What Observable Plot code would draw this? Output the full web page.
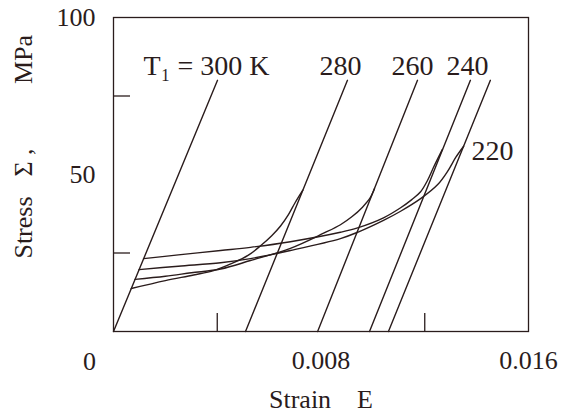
<!DOCTYPE html>
<html>
<head>
<meta charset="utf-8">
<script src="https://cdn.jsdelivr.net/npm/d3@7"></script>
<script src="https://cdn.jsdelivr.net/npm/@observablehq/plot@0.6"></script>
<style>
  html, body { margin: 0; padding: 0; background: #fff; }
  #chart { width: 564px; height: 415px; }
</style>
</head>
<body>
<div id="chart"></div>
<script>
// ---- data (strain E, stress Σ in MPa) ----
const lineTemps = [300, 280, 260, 240, 220];
const lineStartStrain = [0, 0.00509, 0.00787, 0.00987, 0.0106];
const lineEndStrain = [0.00401, 0.00902, 0.01172, 0.01376, 0.01453];
const lineEndStress = [80, 80, 80, 80, 80];

const curve280Strain = [0.000685, 0.0020, 0.00309, 0.00386, 0.00463, 0.00520, 0.00567, 0.00610, 0.00644, 0.00675, 0.00700, 0.0073];
const curve280Stress = [13.7, 16.2, 18.0, 19.4, 21.9, 24.3, 27.3, 30.5, 33.6, 37.3, 41.0, 45.0];

const curve260Strain = [0.00083, 0.0020, 0.00300, 0.00413, 0.00528, 0.00682, 0.0081, 0.00875, 0.0092, 0.0096, 0.0099, 0.01006];
const curve260Stress = [16.6, 17.6, 18.7, 19.9, 22.6, 26.5, 31.3, 34.0, 36.6, 39.6, 42.6, 45.5];

const curve240Strain = [0.00116, 0.0025, 0.00413, 0.00528, 0.00682, 0.00875, 0.00941, 0.01041, 0.01107, 0.0115, 0.01184, 0.0121, 0.01234, 0.01268];
const curve240Stress = [23.2, 24.4, 25.8, 26.8, 28.6, 31.6, 33.0, 36.2, 39.4, 42.0, 44.5, 48.0, 52.3, 58.0];

const curve220Strain = [0.000985, 0.0025, 0.00413, 0.00528, 0.00682, 0.00875, 0.00941, 0.01041, 0.01107, 0.01184, 0.0125, 0.01288, 0.0132, 0.0135];
const curve220Stress = [19.7, 20.8, 21.9, 23.2, 25.8, 29.6, 31.6, 35.4, 38.3, 42.3, 46.8, 51.0, 55.5, 59.0];

const labelTexts = ["T\u2081 = 300 K", "280", "260", "240", "220"];
const labelStrain = [0.00116, 0.00875, 0.01153, 0.01365, 0.01461];
const labelStress = [84.7, 84.7, 84.7, 84.7, 57.6];

const xTickLabels = [0.008, 0.016];
const yTickLabels = [50, 100];
const xMinorTicks = [0.004, 0.012];
const yMinorTicks = [25, 75];

const yTitleParts = ["Stress", "\u03A3 ,", "MPa"];

// ---- build tables ----
const lines = lineTemps.map((t, i) => [
  {t, e: lineStartStrain[i], s: 0},
  {t, e: lineEndStrain[i], s: lineEndStress[i]}
]).flat();

const curves = [
  [280, curve280Strain, curve280Stress],
  [260, curve260Strain, curve260Stress],
  [240, curve240Strain, curve240Stress],
  [220, curve220Strain, curve220Stress]
].flatMap(([t, es, ss]) => es.map((e, i) => ({t, e, s: ss[i]})));

const labels = labelTexts.map((text, i) => ({text, e: labelStrain[i], s: labelStress[i], first: i === 0}));

const ink = "#2a1c1c";
const yTitleOffsets = [53, -12, -115];

const chart = Plot.plot({
  width: 564,
  height: 415,
  marginLeft: 113,
  marginRight: 36,
  marginTop: 17,
  marginBottom: 84,
  x: {domain: [0, 0.016]},
  y: {domain: [0, 100]},
  style: {fontFamily: "'Liberation Serif', 'Times New Roman', serif", fontSize: "26px", color: ink, background: "#fff"},
  marks: [
    Plot.frame({stroke: ink, strokeWidth: 1.3}),
    Plot.tickY(yMinorTicks, {y: d => d, insetRight: 398, stroke: ink, strokeWidth: 1.3}),
    Plot.tickX(xMinorTicks, {x: d => d, insetTop: 296, stroke: ink, strokeWidth: 1.3}),
    Plot.axisY({ticks: yTickLabels, tickSize: 0, tickPadding: 18, tickFormat: d => String(d), label: null}),
    Plot.axisX({ticks: xTickLabels, tickSize: 0, tickPadding: 19, tickFormat: d => String(d), label: null}),
    Plot.text([{e: 0, s: 0, text: "0"}], {x: "e", y: "s", text: "text", dx: -24, dy: 30}),
    Plot.line(lines, {x: "e", y: "s", z: "t", stroke: ink, strokeWidth: 1.4}),
    Plot.line(curves, {x: "e", y: "s", z: "t", stroke: ink, strokeWidth: 1.4, curve: "catmull-rom"}),
    Plot.text(labels.filter(d => d.first), {x: "e", y: "s", text: "text", textAnchor: "start", fontSize: 28}),
    Plot.text(labels.filter(d => !d.first), {x: "e", y: "s", text: "text", textAnchor: "middle", fontSize: 28}),
    Plot.text(["Strain\u2003E"], {frameAnchor: "bottom", dy: 68, textAnchor: "middle", lineAnchor: "middle", text: d => d}),
    ...yTitleParts.map((p, i) => Plot.text([p], {frameAnchor: "left", dx: -90, dy: yTitleOffsets[i], rotate: -90, textAnchor: "middle", lineAnchor: "middle", text: d => d}))
  ]
});
document.getElementById("chart").append(chart);
</script>
</body>
</html>
